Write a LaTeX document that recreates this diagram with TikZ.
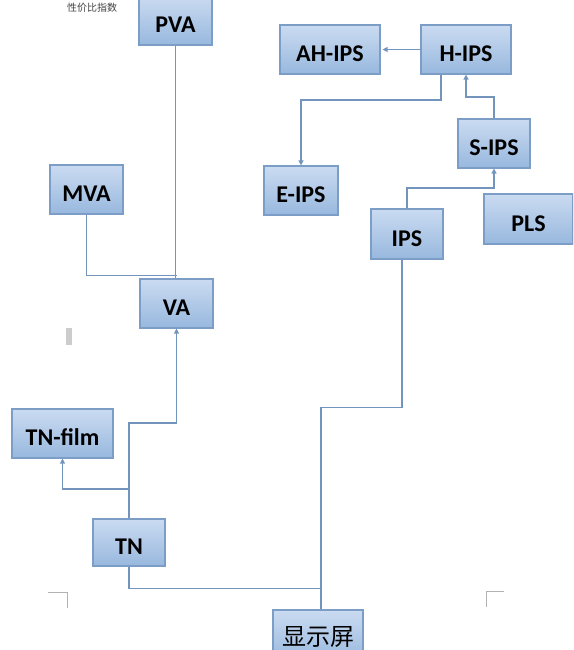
\documentclass[tikz,border=0pt]{standalone}
\usepackage{fontspec}
\setmainfont{Carlito}
\newfontfamily\cjkfont{Noto Sans CJK SC}
\usepackage{tikz}
\usetikzlibrary{arrows.meta,positioning,calc}

\definecolor{boxtop}{HTML}{CADBF1}
\definecolor{boxbot}{HTML}{98B8DE}
\definecolor{boxline}{HTML}{7C9DC6}
\definecolor{linkcol}{HTML}{7394BC}

\begin{document}
\begin{tikzpicture}[
  x=1pt, y=-1pt,
  panel/.style={rectangle, draw=boxline, line width=1.1pt, top color=boxtop, bottom color=boxbot, minimum height=49pt, inner sep=0pt, text height=26.5pt, text depth=2pt, font=\fontsize{24}{26}\selectfont\bfseries},
  link/.style={draw=linkcol, line width=1.2pt},
  arrow/.style={link, -{Triangle[length=5pt, width=5pt]}},
  cropmark/.style={draw=gray!60, line width=0.8pt},
]
  \useasboundingbox (0,0) rectangle (573,650);
  \begin{scope}
  \clip (0,0) rectangle (573,650);

  % VA family
  \node[panel, minimum width=73pt] at (175.5,20.5) (pva) {PVA};
  \node[anchor=west, font=\cjkfont\fontsize{10}{12}\selectfont, text=black!75, inner sep=0pt] at (67,8) (pvalabel) {性价比指数};
  \node[panel, minimum width=73pt] at (86.5,189.5) (mva) {MVA};
  \node[panel, minimum width=73pt] at (176.5,303.5) (va) {VA};

  % TN family
  \node[panel, minimum width=101pt] at (62.5,433.5) (tnfilm) {TN-film};
  \node[panel, minimum width=72pt, minimum height=47pt] at (129,542.5) (tn) {TN};

  % IPS family
  \node[panel, minimum width=100pt] at (330,49.5) (ahips) {AH-IPS};
  \node[panel, minimum width=90pt] at (466,49.5) (hips) {H-IPS};
  \node[panel, minimum width=74pt] at (301,190.5) (eips) {E-IPS};
  \node[panel, minimum width=72pt] at (494,143.5) (sips) {S-IPS};
  \node[panel, minimum width=72pt, minimum height=50pt] at (407,234) (ips) {IPS};
  \node[panel, minimum width=89pt, minimum height=50pt] at (528.5,219) (pls) {PLS};

  % root
  \node[panel, minimum width=90pt, minimum height=52pt, text height=21pt, text depth=3pt, font=\cjkfont\fontsize{24}{26}\selectfont] at (318,636) (screen) {显示屏};

  % Links
  \draw[link] (pva.south) -- (pva.south |- va.north);
  \draw[link] (mva.south) |- ([yshift=3pt]va.north);
  \draw[arrow] (tn.north) -- (tn.north |- 0,423) -| (va.south);
  \draw[arrow] (tn.north |- 0,489) -| (tnfilm.south);
  \draw[link] (tn.south) |- ($(screen.north)+(3,-21)$);
  \draw[link] ([xshift=3pt]screen.north) -- ($(screen.north)+(3,-202)$) -| ([xshift=-5pt]ips.south);
  \draw[arrow] (ips.north) -- (ips.north |- 0,188) -| (sips.south);
  \draw[arrow] (sips.north) -- (sips.north |- 0,97) -| (hips.south);
  \draw[arrow] ([xshift=-25pt]hips.south) -- ([xshift=-25pt]hips.south |- 0,100) -| (eips.north);
  \draw[arrow] (hips.west) -- ([xshift=2pt]ahips.east);

  % page marks
  \draw[cropmark] (48,592) -- (67,592) -- (67,608);
  \draw[cropmark] (504,591) -- (486,591) -- (486,607);
  \fill[gray!40] (66,328) rectangle (72,345);
  \end{scope}
\end{tikzpicture}
\end{document}
